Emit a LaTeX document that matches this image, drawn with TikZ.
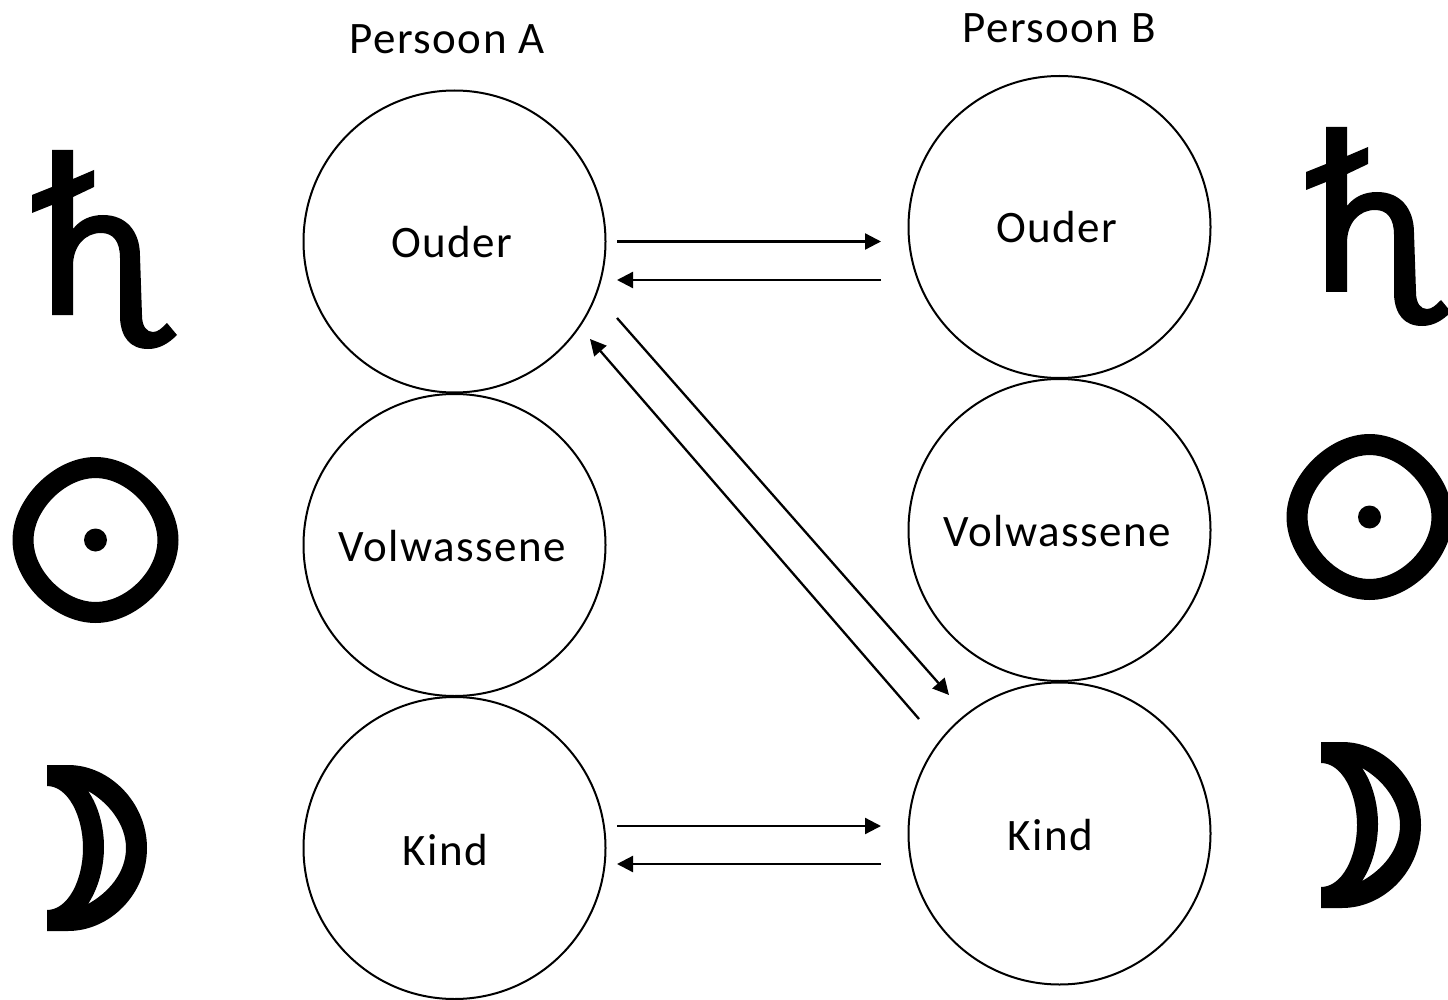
\documentclass[tikz,border=0pt]{standalone}
\usepackage{fontspec}
\setmainfont{Carlito}[LetterSpace=3.2]
\usetikzlibrary{arrows.meta}
\tikzset{
  x=1pt,y=-1pt,
  role/.style={circle,draw=black,line width=2pt,minimum size=302pt,inner sep=0pt,fill=none},
  lbl/.style={font=\fontsize{45}{52}\selectfont,anchor=base,inner sep=0pt,text=black},
  flow/.style={line width=2.3pt,draw=black,-{Triangle[length=16pt,width=16pt]}},
  glyph/.style={fill=black,draw=none,even odd rule},
}
\newcommand{\saturnsym}{
  \fill[glyph] (52,150) -- (73,150) -- (73,179) -- (94,170) -- (94,187) -- (73,197) -- (73,229)
    .. controls (80,220) and (90,215) .. (103,215)
    .. controls (126,215) and (140,231) .. (140,256)
    -- (142,315) .. controls (142,327) and (147,332) .. (153,332)
    .. controls (158,332) and (162,328) .. (167,323)
    -- (177,335) .. controls (168,344) and (159,349) .. (148,349)
    .. controls (130,349) and (121,337) .. (120,318)
    -- (120,258) .. controls (120,241) and (113,233) .. (101,233)
    .. controls (85,233) and (73,246) .. (73,266)
    -- (73,315) -- (52,315) -- (52,205) -- (32,213) -- (32,195) -- (52,187) -- cycle;
}
\newcommand{\sunsym}{
  \fill[glyph] (95.5,457) .. controls (137,457) and (178.5,499) .. (178.5,540)
    .. controls (178.5,582) and (137,623) .. (95.5,623)
    .. controls (54,623) and (12.5,582) .. (12.5,540)
    .. controls (12.5,499) and (54,457) .. (95.5,457) -- cycle
    (95.5,478) .. controls (126,478) and (157.5,510) .. (157.5,540)
    .. controls (157.5,571) and (126,602) .. (95.5,602)
    .. controls (65,602) and (33.5,571) .. (33.5,540)
    .. controls (33.5,510) and (65,478) .. (95.5,478) -- cycle;
  \fill[glyph] (95.5,540) circle[radius=11.5pt];
}
\newcommand{\moonsym}{
  \fill[glyph] (47,765) -- (68,765) .. controls (110,765) and (147,803) .. (147,848)
    .. controls (147,894) and (110,931) .. (68,931) -- (47,931) -- (47,910)
    .. controls (68,910) and (83,880) .. (83,848)
    .. controls (83,816) and (68,786) .. (47,786) -- cycle
    (88,791) .. controls (98,805) and (104,826) .. (104,847)
    .. controls (104,868) and (98,889) .. (88,904)
    .. controls (108,893) and (126,873) .. (126,848)
    .. controls (126,824) and (108,802) .. (88,791) -- cycle;
}
\begin{document}
\begin{tikzpicture}
\useasboundingbox (0,0) rectangle (1448,1000);
% symbols
\saturnsym \sunsym \moonsym
\begin{scope}[xshift=1274pt,yshift=23pt]
\saturnsym \sunsym \moonsym
\end{scope}
% circles
\node[role] (aO) at (454.5,241.5) {};
\node[role] (aV) at (454.5,545) {};
\node[role] (aK) at (454.5,848) {};
\node[role] (bO) at (1059.5,227) {};
\node[role] (bV) at (1059.5,530) {};
\node[role] (bK) at (1059.5,833.5) {};
% labels
\node[lbl] (tA) at (447,54) {Persoon A};
\node[lbl] (tB) at (1059,43) {Persoon B};
\node[lbl] (lAO) at (452,258) {Ouder};
\node[lbl] (lAV) at (452,561) {Volwassene};
\node[lbl] (lAK) at (445.5,865) {Kind};
\node[lbl] (lBO) at (1056.5,243) {Ouder};
\node[lbl] (lBV) at (1057,546) {Volwassene};
\node[lbl] (lBK) at (1050.5,850) {Kind};
% connector ends
\coordinate (p1) at (617,241.5); \coordinate (p2) at (881,241.5);
\coordinate (p3) at (881,280); \coordinate (p4) at (617,280);
\coordinate (p5) at (617,318); \coordinate (p6) at (949,695);
\coordinate (p7) at (919,719); \coordinate (p8) at (590,339);
\coordinate (p9) at (617,826); \coordinate (p10) at (881,826);
\coordinate (p11) at (881,864); \coordinate (p12) at (617,864);
\draw[flow] (p1) -- (p2);
\draw[flow] (p3) -- (p4);
\draw[flow] (p5) -- (p6);
\draw[flow] (p7) -- (p8);
\draw[flow] (p9) -- (p10);
\draw[flow] (p11) -- (p12);
\end{tikzpicture}
\end{document}
